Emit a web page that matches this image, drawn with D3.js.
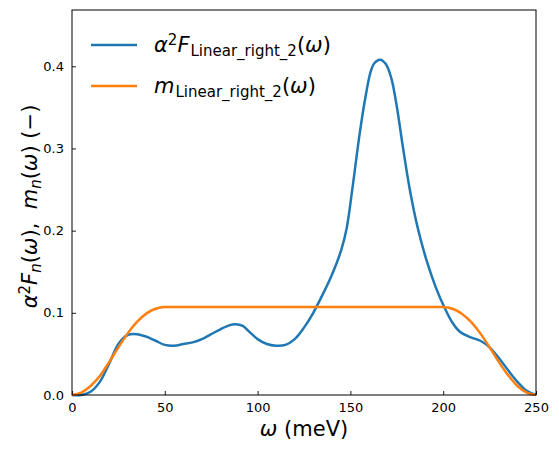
<!DOCTYPE html>
<html>
<head>
<meta charset="utf-8">
<script src="https://cdn.jsdelivr.net/npm/d3@7"></script>
<style>
  body { margin: 0; background: #fff; }
  text { font-family: "DejaVu Sans", sans-serif; fill: #000; }
</style>
</head>
<body>
<div id="chart"></div>
<script>
// omega (meV) e valores
const omegaA2F = [0, 5, 10, 15, 20, 25, 30, 35, 40, 45, 50, 55, 60, 65, 70, 75, 80, 85, 88, 92, 95, 100, 105, 110, 115, 120, 125, 130, 135, 140, 145, 148, 151, 155, 158, 161, 163, 166, 169, 172, 175, 178, 182, 186, 191, 196, 201, 205, 209, 215, 220, 225, 230, 235, 240, 245, 250];
const a2F = [0, 0.0, 0.004, 0.016, 0.038, 0.062, 0.073, 0.074, 0.071, 0.066, 0.061, 0.060, 0.062, 0.064, 0.068, 0.074, 0.080, 0.085, 0.086, 0.084, 0.078, 0.068, 0.062, 0.060, 0.061, 0.068, 0.082, 0.100, 0.122, 0.146, 0.176, 0.203, 0.250, 0.318, 0.361, 0.394, 0.404, 0.408, 0.403, 0.386, 0.351, 0.306, 0.250, 0.206, 0.164, 0.131, 0.105, 0.088, 0.077, 0.070, 0.066, 0.058, 0.045, 0.030, 0.016, 0.005, 0.0];

const omegaM = [0, 5, 10, 15, 20, 25, 30, 35, 40, 45, 50, 75, 100, 125, 150, 175, 200, 205, 210, 215, 220, 225, 230, 235, 240, 245, 250];
const mOmega = [0, 0.003, 0.011, 0.023, 0.040, 0.058, 0.075, 0.089, 0.099, 0.105, 0.107, 0.107, 0.107, 0.107, 0.107, 0.107, 0.107, 0.105, 0.099, 0.089, 0.075, 0.058, 0.040, 0.024, 0.011, 0.003, 0];

const xTicks = [0, 50, 100, 150, 200, 250];
const yTicks = [0, 0.1, 0.2, 0.3, 0.4];

const margin = { top: 10, right: 23, bottom: 57, left: 72 };
const width = 559 - margin.left - margin.right;
const height = 452 - margin.top - margin.bottom;

const svg = d3.select("#chart")
    .append("svg")
    .attr("width", 559)
    .attr("height", 452);

const g = svg.append("g")
    .attr("transform", `translate(${margin.left},${margin.top})`);

const xScale = d3.scaleLinear().domain([0, 250]).range([0, width]);
const yScale = d3.scaleLinear().domain([0, 0.4685]).range([height, 0]);

// Eixos (ticks para dentro)
const xAxis = g.append("g")
    .attr("transform", `translate(0,${height})`)
    .call(d3.axisBottom(xScale).tickValues(xTicks).tickSizeInner(-4).tickSizeOuter(0).tickPadding(8).tickFormat(d3.format("d")));
const yAxis = g.append("g")
    .call(d3.axisLeft(yScale).tickValues(yTicks).tickSizeInner(-4).tickSizeOuter(0).tickPadding(8).tickFormat(d3.format(".1f")));

[xAxis, yAxis].forEach(a => {
    a.selectAll("text").style("font-size", "13px").style("font-family", "DejaVu Sans");
    a.select(".domain").remove();
    a.selectAll("line").attr("stroke", "#000").attr("stroke-width", 0.9);
});

// Curvas
const lineSmooth = d3.line()
    .x(d => xScale(d[0]))
    .y(d => yScale(d[1]))
    .curve(d3.curveCatmullRom.alpha(0.5));

const lineMono = d3.line()
    .x(d => xScale(d[0]))
    .y(d => yScale(d[1]))
    .curve(d3.curveMonotoneX);

g.append("path")
    .datum(omegaA2F.map((w, i) => [w, a2F[i]]))
    .attr("fill", "none")
    .attr("stroke", "#1f77b4")
    .attr("stroke-width", 2.5)
    .attr("d", lineSmooth);

g.append("path")
    .datum(omegaM.map((w, i) => [w, mOmega[i]]))
    .attr("fill", "none")
    .attr("stroke", "#ff7f0e")
    .attr("stroke-width", 2.5)
    .attr("d", lineMono);

// Moldura
g.append("rect")
    .attr("width", width)
    .attr("height", height)
    .attr("fill", "none")
    .attr("stroke", "#000")
    .attr("stroke-width", 1);

// Legenda
const legend = [
    { color: "#1f77b4", kind: "a2f" },
    { color: "#ff7f0e", kind: "m" }
];
legend.forEach((d, i) => {
    const y = 45 + i * 41;
    svg.append("line")
        .attr("x1", 91).attr("x2", 137)
        .attr("y1", y).attr("y2", y)
        .attr("stroke", d.color)
        .attr("stroke-width", 2.5);
    const t = svg.append("text")
        .attr("x", 154)
        .attr("y", y + 7)
        .style("font-size", "21px");
    if (d.kind === "a2f") {
        t.append("tspan").style("font-style", "italic").text("α");
        t.append("tspan").attr("dy", -7).style("font-size", "15px").text("2");
        t.append("tspan").attr("dy", 7).style("font-style", "italic").text("F");
    } else {
        t.append("tspan").style("font-style", "italic").text("m");
    }
    t.append("tspan").attr("dx", 1).attr("dy", 4).style("font-size", "15px").text("Linear_right_2");
    t.append("tspan").attr("dy", -4).text("(");
    t.append("tspan").style("font-style", "italic").text("ω");
    t.append("tspan").text(")");
});

// Rótulos dos eixos
const xl = svg.append("text")
    .attr("x", margin.left + width / 2)
    .attr("y", 436)
    .style("text-anchor", "middle")
    .style("font-size", "21px");
xl.append("tspan").style("font-style", "italic").text("ω");
xl.append("tspan").text(" (meV)");

const yl = svg.append("text")
    .attr("transform", `translate(37,${margin.top + height / 2 + 4}) rotate(-90)`)
    .style("text-anchor", "middle")
    .style("white-space", "pre")
    .style("font-size", "21px");
yl.append("tspan").style("font-style", "italic").text("α");
yl.append("tspan").attr("dy", -7).style("font-size", "15px").text("2");
yl.append("tspan").attr("dy", 7).style("font-style", "italic").text("F");
yl.append("tspan").attr("dy", 4).style("font-size", "15px").style("font-style", "italic").text("n");
yl.append("tspan").attr("dy", -4).text("(");
yl.append("tspan").style("font-style", "italic").text("ω");
yl.append("tspan").text("),  ");
yl.append("tspan").style("font-style", "italic").text("m");
yl.append("tspan").attr("dy", 4).style("font-size", "15px").style("font-style", "italic").text("n");
yl.append("tspan").attr("dy", -4).text("(");
yl.append("tspan").style("font-style", "italic").text("ω");
yl.append("tspan").text(") (−)");
</script>
</body>
</html>
